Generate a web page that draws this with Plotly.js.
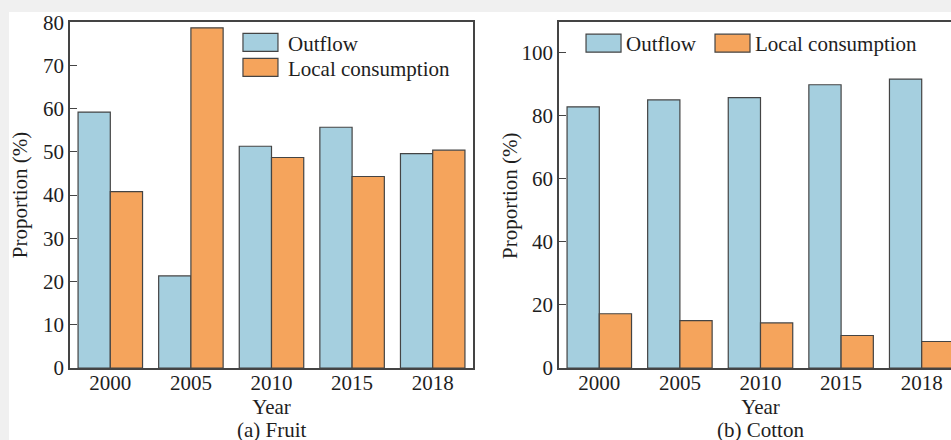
<!DOCTYPE html>
<html><head><meta charset="utf-8">
<script src="https://cdn.plot.ly/plotly-3.0.1.min.js"></script>
<style>
html,body{margin:0;padding:0;background:#f0f0f0;overflow:hidden;width:951px;height:440px}
#paperbg{position:absolute;left:9px;top:12px;width:970px;height:428px;background:#fff}
#chart{position:absolute;left:0;top:0;width:979px;height:440px}
</style>
</head><body><div id="paperbg"></div><div id="chart"></div>
<script>
const years = ['2000', '2005', '2010', '2015', '2018'];
const fruitOutflow = [59.2, 21.3, 51.3, 55.7, 49.6];
const fruitLocal = [40.8, 78.7, 48.7, 44.3, 50.4];
const cottonOutflow = [82.8, 85.0, 85.7, 89.8, 91.6];
const cottonLocal = [17.2, 15.0, 14.3, 10.3, 8.4];
const seriesNames = ['Outflow', 'Local consumption'];
const yTicksFruit = [0, 10, 20, 30, 40, 50, 60, 70, 80];
const yTicksCotton = [0, 20, 40, 60, 80, 100];
const panelTitles = ['(a) Fruit', '(b) Cotton'];

const colors = ['#a5cfdf', '#f5a45c'];
const lineCol = '#444';
const FONT = 'Liberation Serif, Times New Roman, serif';

function bar(y, i, xa, ya, lg) {
  return {
    type: 'bar', x: years, y: y, name: seriesNames[i],
    xaxis: xa, yaxis: ya, legend: lg,
    marker: {color: colors[i], line: {color: lineCol, width: 1.2}},
    hoverinfo: 'x+y+name'
  };
}
const data = [
  bar(fruitOutflow, 0, 'x', 'y', 'legend'),
  bar(fruitLocal, 1, 'x', 'y', 'legend2'),
  bar(cottonOutflow, 0, 'x2', 'y2', 'legend3'),
  bar(cottonLocal, 1, 'x2', 'y2', 'legend4')
];

const axFont = {family: FONT, size: 21, color: '#1e1e1e'};
function xax(domain, anchor) {
  return {
    domain: domain, anchor: anchor, type: 'category',
    showline: true, mirror: true, linecolor: lineCol, linewidth: 1.5,
    ticks: '', tickfont: axFont, showgrid: false, zeroline: false,
    ticklabelstandoff: -5,
    title: {text: 'Year', font: axFont, standoff: 1},
    fixedrange: true
  };
}
function yax(anchor, range, tv, withTitle) {
  const a = {
    anchor: anchor, range: range, tickvals: tv, ticktext: tv.map(String),
    showline: true, mirror: true, linecolor: lineCol, linewidth: 1.5,
    ticks: 'inside', ticklen: 7, tickcolor: lineCol, tickwidth: 1.2,
    tickfont: axFont, showgrid: false, zeroline: false,
    ticklabelstandoff: 0, ticklabeloverflow: 'allow',
    fixedrange: true
  };
  if (withTitle) a.title = {text: 'Proportion (%)', font: axFont, standoff: 10};
  return a;
}
function leg(x, y, iw) {
  return {
    x: x, y: y, xanchor: 'left', yanchor: 'top', orientation: 'v',
    itemwidth: iw, bgcolor: 'rgba(0,0,0,0)', borderwidth: 0,
    font: axFont, itemclick: false, itemdoubleclick: false
  };
}

const layout = {
  width: 979, height: 440,
  margin: {l: 70, r: 17, t: 22, b: 72},
  paper_bgcolor: 'rgba(0,0,0,0)', plot_bgcolor: '#fff',
  font: axFont,
  barmode: 'group', bargap: 0.2, bargroupgap: 0,
  xaxis: xax([0, 0.4518], 'y'),
  yaxis: yax('x', [0, 80.05], yTicksFruit, true),
  xaxis2: xax([0.5482, 1], 'y2'),
  yaxis2: yax('x2', [0, 109.7], yTicksCotton, false),
  showlegend: true,
  legend: leg(0.1827, 0.9995, 45),
  legend2: leg(0.1827, 0.9272, 45),
  legend3: leg(0.5729, 0.9971, 35),
  legend4: leg(0.7175, 0.9971, 35),
  annotations: [
    {text: panelTitles[0], xref: 'x domain', yref: 'paper', x: 0.5, y: 0, yshift: -62,
     showarrow: false, font: axFont, xanchor: 'center', yanchor: 'middle'},
    {text: panelTitles[1], xref: 'x2 domain', yref: 'paper', x: 0.5, y: 0, yshift: -62,
     showarrow: false, font: axFont, xanchor: 'center', yanchor: 'middle'},
    {text: 'Proportion (%)', xref: 'x2 domain', yref: 'y2 domain', x: 0, y: 0.5, xshift: -49,
     textangle: -90, showarrow: false, font: axFont, xanchor: 'center', yanchor: 'middle'}
  ]
};

Plotly.newPlot('chart', data, layout, {displayModeBar: false}).then(function () {
  document.querySelectorAll('.legendpoints path').forEach(function (p) {
    p.setAttribute('d', 'M17.5,9H-17.5V-9H17.5Z');
  });
});
</script>
</body></html>
